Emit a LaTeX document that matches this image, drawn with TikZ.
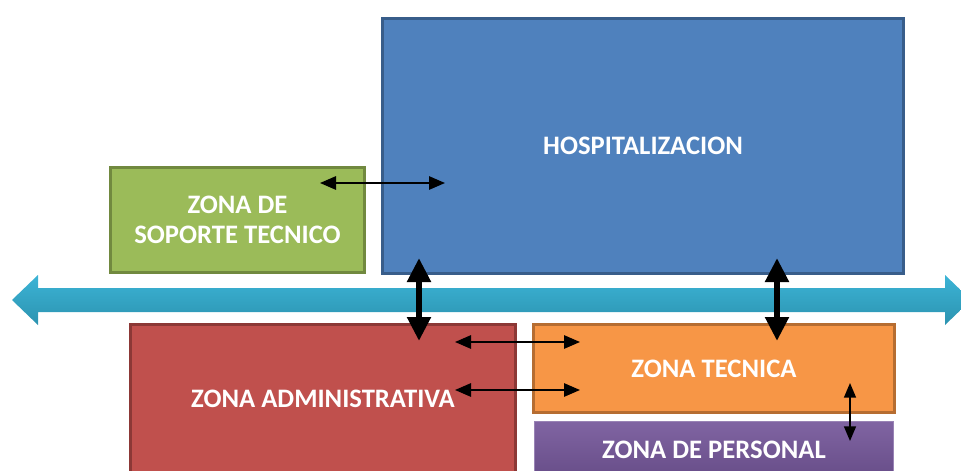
\documentclass[tikz,border=0pt]{standalone}
\usepackage{fontspec}
\setmainfont{Carlito}
\usetikzlibrary{arrows.meta}

\definecolor{hospblue}{HTML}{4F81BD}
\definecolor{hospline}{HTML}{385D8A}
\definecolor{soporte}{HTML}{9BBB59}
\definecolor{soporteline}{HTML}{71893F}
\definecolor{admred}{HTML}{C0504D}
\definecolor{admline}{HTML}{8C3836}
\definecolor{tecorange}{HTML}{F79646}
\definecolor{tecline}{HTML}{B66D31}
\definecolor{perstop}{HTML}{8064A2}
\definecolor{persbot}{HTML}{674D88}
\definecolor{ejetop}{HTML}{3CB4D6}
\definecolor{ejebot}{HTML}{2C93B0}

\begin{document}
\begin{tikzpicture}[x=0.75pt,y=-0.75pt,
  zona/.style={draw,line width=2.2pt,text=white,align=center,inner sep=0pt,
    font=\bfseries\fontsize{20}{23}\selectfont},
  link/.style={{Triangle[length=12pt,width=10pt]}-{Triangle[length=12pt,width=10pt]},line width=1.4pt},
  biglink/.style={{Triangle[length=18pt,width=17pt]}-{Triangle[length=18pt,width=17pt]},line width=5pt}]
  \useasboundingbox (0,0) rectangle (961,471);
  % main corridor
  \shade[top color=ejetop,bottom color=ejebot]
    (12,300) -- (38,275) -- (38,288) -- (945,288) -- (945,275) -- (971,300)
    -- (945,325) -- (945,312) -- (38,312) -- (38,325) -- cycle;
  % zones
  \node[zona,fill=hospblue,draw=hospline,minimum width=390.75pt,minimum height=191.25pt] (hosp) at (643,146) {HOSPITALIZACION};
  \node[zona,fill=soporte,draw=soporteline,minimum width=190.5pt,minimum height=78.75pt] (sop) at (237.5,220) {ZONA DE\\SOPORTE TECNICO};
  \node[zona,fill=admred,draw=admline,minimum width=288.75pt,minimum height=111.75pt] (adm) at (323,399) {ZONA ADMINISTRATIVA};
  \node[zona,fill=tecorange,draw=tecline,minimum width=270.75pt,minimum height=66pt] (tec) at (714,368.5) {ZONA TECNICA};
  \node[zona,top color=perstop,bottom color=persbot,draw=perstop!80!white,line width=1pt,minimum width=269.25pt,minimum height=42.75pt] (pers) at (714,450) {ZONA DE PERSONAL};
  % connections
  \coordinate (sopE) at (320,183);
  \coordinate (hospW) at (445,183);
  \coordinate (hospA) at (419,258);
  \coordinate (admA) at (419,341);
  \coordinate (hospB) at (777,258);
  \coordinate (tecB) at (777,341);
  \coordinate (admC) at (455,342);
  \coordinate (tecC) at (580,342);
  \coordinate (admD) at (455,390);
  \coordinate (tecD) at (580,390);
  \coordinate (tecE) at (850,383);
  \coordinate (persE) at (850,441);
  \draw[link] (sopE) -- (hospW);
  \draw[biglink] (hospA) -- (admA);
  \draw[biglink] (hospB) -- (tecB);
  \draw[link] (admC) -- (tecC);
  \draw[link] (admD) -- (tecD);
  \draw[link,{Triangle[length=11pt,width=9pt]}-{Triangle[length=11pt,width=9pt]},line width=1.1pt] (tecE) -- (persE);
\end{tikzpicture}
\end{document}
